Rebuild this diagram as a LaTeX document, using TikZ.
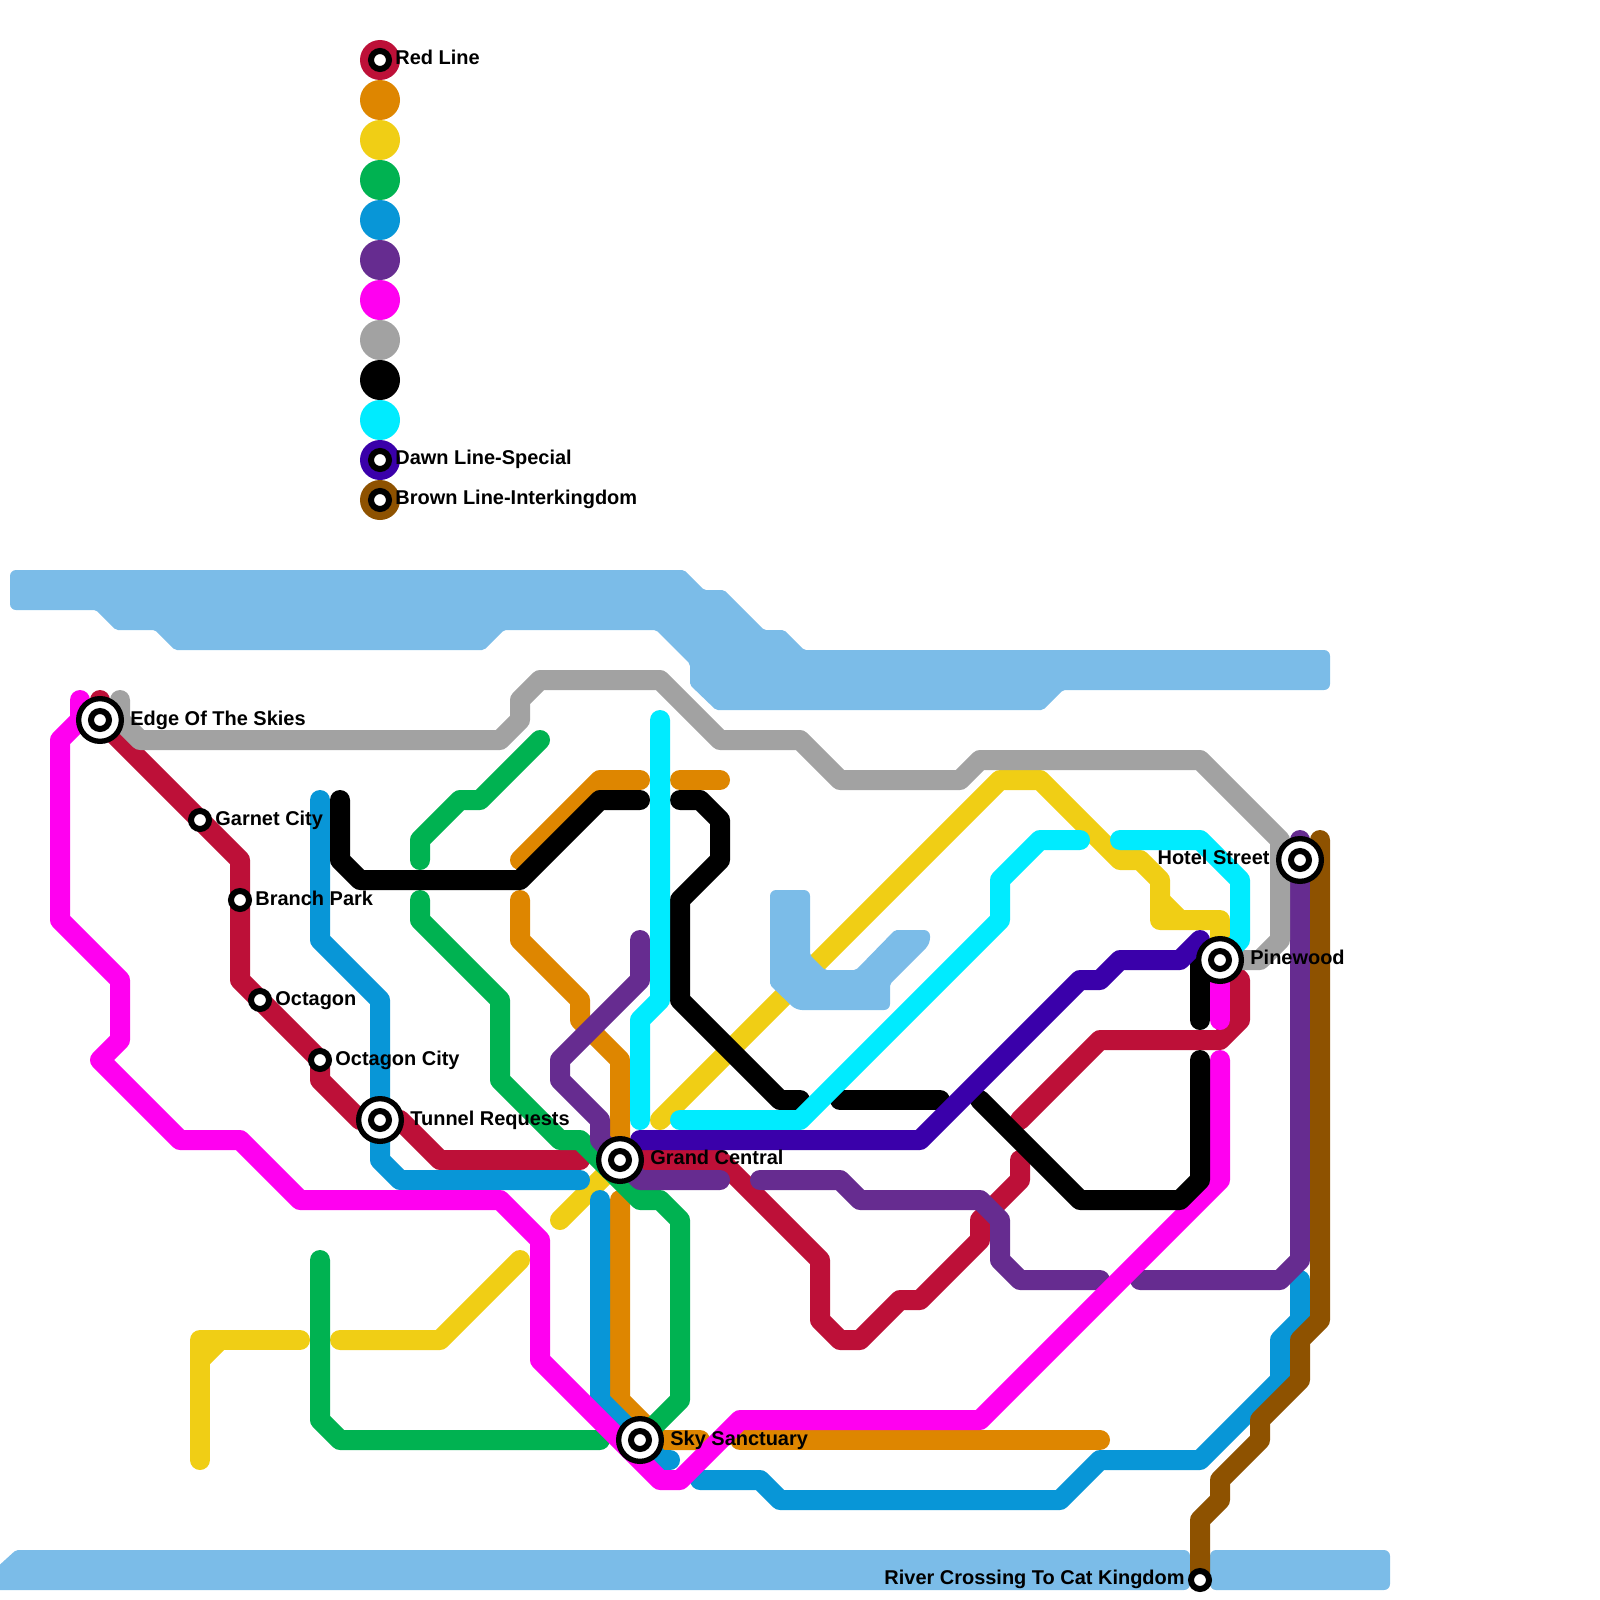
\documentclass[tikz,border=0pt]{standalone}
\usepackage{fontspec}
\setmainfont{Liberation Sans}[BoldFont={Liberation Sans Bold}]
\definecolor{cred}{HTML}{BD1038}
\definecolor{corange}{HTML}{DE8600}
\definecolor{cyellow}{HTML}{F0CE15}
\definecolor{cgreen}{HTML}{00B251}
\definecolor{cblue}{HTML}{0896D7}
\definecolor{cpurple}{HTML}{662C90}
\definecolor{cmagenta}{HTML}{FF00F0}
\definecolor{cgray}{HTML}{A2A2A2}
\definecolor{ccyan}{HTML}{00EBFF}
\definecolor{cindigo}{HTML}{3A00AA}
\definecolor{cbrown}{HTML}{8E5200}
\definecolor{cwater}{HTML}{7BBCE8}
\tikzset{
  metro/.style={line width=10pt,line cap=round,line join=round},
  water/.style={fill=cwater},
  rc/.style={rounded corners=3pt},
  sc/.style={rounded corners=1pt},
  hub/.style={circle,draw=black,fill=white,line width=2.65pt,minimum size=21.35pt,inner sep=0pt},
  core/.style={circle,draw=black,fill=white,line width=3pt,minimum size=9pt,inner sep=0pt},
  halt/.style={circle,draw=black,fill=white,line width=3pt,minimum size=9pt,inner sep=0pt},
  lbl/.style={anchor=base west,inner sep=0pt,font=\fontsize{9.98}{12}\selectfont\bfseries,text=black},
  lblr/.style={anchor=base east,inner sep=0pt,font=\fontsize{9.98}{12}\selectfont\bfseries,text=black},
  swatch/.style={circle,inner sep=0pt,minimum size=20pt}
}
\begin{document}
\begin{tikzpicture}[x=0.5pt,y=-0.5pt]
\useasboundingbox (0,0) rectangle (1600,1600);
% water
\fill[water,sc] (10,590) [rc] -- (10,570) [sc] -- (684,570) -- (704,590) -- (724,590) -- (764,630) -- (784,630) -- (804,650) [rc] -- (1330,650) -- (1330,690) [sc] -- (1063,690) -- (1043,710) -- (716,710) -- (690,685) -- (690,664) -- (656,630) -- (504,630) -- (484,650) -- (175,650) -- (155,630) -- (116,630) -- (96,610) [rc] -- (10,610) -- cycle;
\fill[water,sc] (-6,1590) -- (-6,1570) -- (16,1550) [rc] -- (1190,1550) -- (1190,1590) [sc] -- cycle;
\fill[water,rc] (1210,1550) -- (1390,1550) -- (1390,1590) -- (1210,1590) -- cycle;
% red
\draw[metro,cred] (100,700) -- (100,720) -- (240,860) -- (240,980) -- (320,1060) -- (320,1080) -- (360,1120) -- (400,1120) -- (440,1160) -- (580,1160);
\draw[metro,cred] (620,1160) -- (720,1160) -- (820,1260) -- (820,1320) -- (840,1340) -- (860,1340) -- (900,1300) -- (920,1300) -- (980,1240) -- (980,1220) -- (1020,1180) -- (1020,1160);
\draw[metro,cred] (1020,1120) -- (1100,1040) -- (1220,1040) -- (1240,1020) -- (1240,980) -- (1220,960);
% orange
\draw[metro,corange] (520,860) -- (600,780) -- (640,780);
\draw[metro,corange] (680,780) -- (720,780);
\draw[metro,corange] (520,900) -- (520,940) -- (580,1000) -- (580,1020) -- (620,1060) -- (620,1160);
\draw[metro,corange] (620,1200) -- (620,1400) -- (660,1440) -- (700,1440);
\draw[metro,corange] (740,1440) -- (1100,1440);
% yellow
\draw[metro,cyellow] (200,1460) -- (200,1340) -- (300,1340);
\draw[metro,cyellow] (200,1360) -- (220,1340);
\draw[metro,cyellow] (340,1340) -- (440,1340) -- (520,1260);
\draw[metro,cyellow] (560,1220) -- (620,1160);
\draw[metro,cyellow] (660,1120) -- (1000,780) -- (1040,780) -- (1120,860) -- (1140,860) -- (1160,880) -- (1160,920) -- (1220,920) -- (1220,960);
\draw[metro,cyellow] (1160,900) -- (1180,920);
% water V over the yellow line
\fill[water,sc] (770,900) [rc] -- (770,890) -- (810,890) [sc] -- (810,955) -- (825,970) -- (856,970) -- (895,930) [rc] -- (930,930) -- (930,944) [sc] -- (890,984) [rc] -- (890,1010) -- (796,1010) [sc] -- (770,985) -- cycle;
% green
\draw[metro,cgreen] (420,860) -- (420,840) -- (460,800) -- (480,800) -- (540,740);
\draw[metro,cgreen] (420,900) -- (420,920) -- (500,1000) -- (500,1080) -- (560,1140) -- (580,1140) -- (640,1200) -- (660,1200) -- (680,1220) -- (680,1400) -- (640,1440);
\draw[metro,cgreen] (320,1260) -- (320,1420) -- (340,1440) -- (600,1440);
% blue
\draw[metro,cblue] (320,800) -- (320,940) -- (380,1000) -- (380,1160) -- (400,1180) -- (580,1180);
\draw[metro,cblue] (600,1200) -- (600,1400) -- (660,1460) -- (670,1460);
\draw[metro,cblue] (700,1480) -- (760,1480) -- (780,1500) -- (1060,1500) -- (1100,1460) -- (1200,1460) -- (1280,1380) -- (1280,1340) -- (1300,1320) -- (1300,1280);
% purple
\draw[metro,cpurple] (640,940) -- (640,980) -- (560,1060) -- (560,1080) -- (600,1120) -- (600,1140) -- (620,1160) -- (640,1180) -- (720,1180);
\draw[metro,cpurple] (760,1180) -- (840,1180) -- (860,1200) -- (980,1200) -- (1000,1220) -- (1000,1260) -- (1020,1280) -- (1100,1280);
\draw[metro,cpurple] (1140,1280) -- (1280,1280) -- (1300,1260) -- (1300,840);
% magenta
\draw[metro,cmagenta] (80,700) -- (80,720) -- (60,740) -- (60,920) -- (120,980) -- (120,1040) -- (100,1060) -- (180,1140) -- (240,1140) -- (300,1200) -- (500,1200) -- (540,1240) -- (540,1360) -- (660,1480) -- (680,1480) -- (740,1420) -- (980,1420) -- (1220,1180) -- (1220,1060);
\draw[metro,cmagenta] (1220,1020) -- (1220,960);
% gray
\draw[metro,cgray] (120,700) -- (120,720) -- (140,740) -- (500,740) -- (520,720) -- (520,700) -- (540,680) -- (660,680) -- (720,740) -- (800,740) -- (840,780) -- (960,780) -- (980,760) -- (1200,760) -- (1280,840) -- (1280,940) -- (1260,960) -- (1220,960);
% black
\draw[metro,black] (340,800) -- (340,860) -- (360,880) -- (520,880) -- (600,800) -- (640,800);
\draw[metro,black] (680,800) -- (700,800) -- (720,820) -- (720,860) -- (680,900) -- (680,1000) -- (780,1100) -- (800,1100);
\draw[metro,black] (840,1100) -- (940,1100);
\draw[metro,black] (980,1100) -- (1080,1200) -- (1180,1200) -- (1200,1180) -- (1200,1060);
\draw[metro,black] (1200,1020) -- (1200,960);
% cyan
\draw[metro,ccyan] (660,720) -- (660,1000) -- (640,1020) -- (640,1120);
\draw[metro,ccyan] (680,1120) -- (800,1120) -- (1000,920) -- (1000,880) -- (1040,840) -- (1080,840);
\draw[metro,ccyan] (1120,840) -- (1200,840) -- (1240,880) -- (1240,940) -- (1220,960);
% indigo
\draw[metro,cindigo] (640,1140) -- (920,1140) -- (1080,980) -- (1100,980) -- (1120,960) -- (1180,960) -- (1200,940);
% brown
\draw[metro,cbrown] (1320,840) -- (1320,1320) -- (1300,1340) -- (1300,1380) -- (1260,1420) -- (1260,1440) -- (1220,1480) -- (1220,1500) -- (1200,1520) -- (1200,1580);
% legend
\node[swatch,fill=cred] (k1) at (380,60) {};
\node[swatch,fill=corange] (k2) at (380,100) {};
\node[swatch,fill=cyellow] (k3) at (380,140) {};
\node[swatch,fill=cgreen] (k4) at (380,180) {};
\node[swatch,fill=cblue] (k5) at (380,220) {};
\node[swatch,fill=cpurple] (k6) at (380,260) {};
\node[swatch,fill=cmagenta] (k7) at (380,300) {};
\node[swatch,fill=cgray] (k8) at (380,340) {};
\node[swatch,fill=black] (k9) at (380,380) {};
\node[swatch,fill=ccyan] (k10) at (380,420) {};
\node[swatch,fill=cindigo] (k11) at (380,460) {};
\node[swatch,fill=cbrown] (k12) at (380,500) {};
\node[halt] (h1) at (k1) {};
\node[halt] (h11) at (k11) {};
\node[halt] (h12) at (k12) {};
\node[lbl] (t1) at (395,65) {Red Line};
\node[lbl] (t11) at (395,464.5) {Dawn Line-Special};
\node[lbl] (t12) at (395,504.5) {Brown Line-Interkingdom};
% stations
\node[hub] (edge) at (100,720) {}; \node[core] (edgec) at (edge) {};
\node[hub] (tunnel) at (380,1120) {}; \node[core] (tunnelc) at (tunnel) {};
\node[hub] (grand) at (620,1160) {}; \node[core] (grandc) at (grand) {};
\node[hub] (sky) at (640,1440) {}; \node[core] (skyc) at (sky) {};
\node[hub] (hotel) at (1300,860) {}; \node[core] (hotelc) at (hotel) {};
\node[hub] (pine) at (1220,960) {}; \node[core] (pinec) at (pine) {};
\node[halt] (garnet) at (200,820) {};
\node[halt] (branch) at (240,900) {};
\node[halt] (octagon) at (260,1000) {};
\node[halt] (octcity) at (320,1060) {};
\node[halt] (river) at (1200,1580) {};
% labels
\node[lbl] (l1) at (130,725) {Edge Of The Skies};
\node[lbl] (l2) at (215,825) {Garnet City};
\node[lbl] (l3) at (255,905.5) {Branch Park};
\node[lbl] (l4) at (275,1005.5) {Octagon};
\node[lbl] (l5) at (335,1065) {Octagon City};
\node[lbl] (l6) at (410,1125.5) {Tunnel Requests};
\node[lbl] (l7) at (650,1164.5) {Grand Central};
\node[lbl] (l8) at (670,1445) {Sky Sanctuary};
\node[lblr] (l9) at (1270,864.5) {Hotel Street};
\node[lbl] (l10) at (1250,964.5) {Pinewood};
\node[lblr] (l11) at (1185,1584.5) {River Crossing To Cat Kingdom};
\end{tikzpicture}
\end{document}
